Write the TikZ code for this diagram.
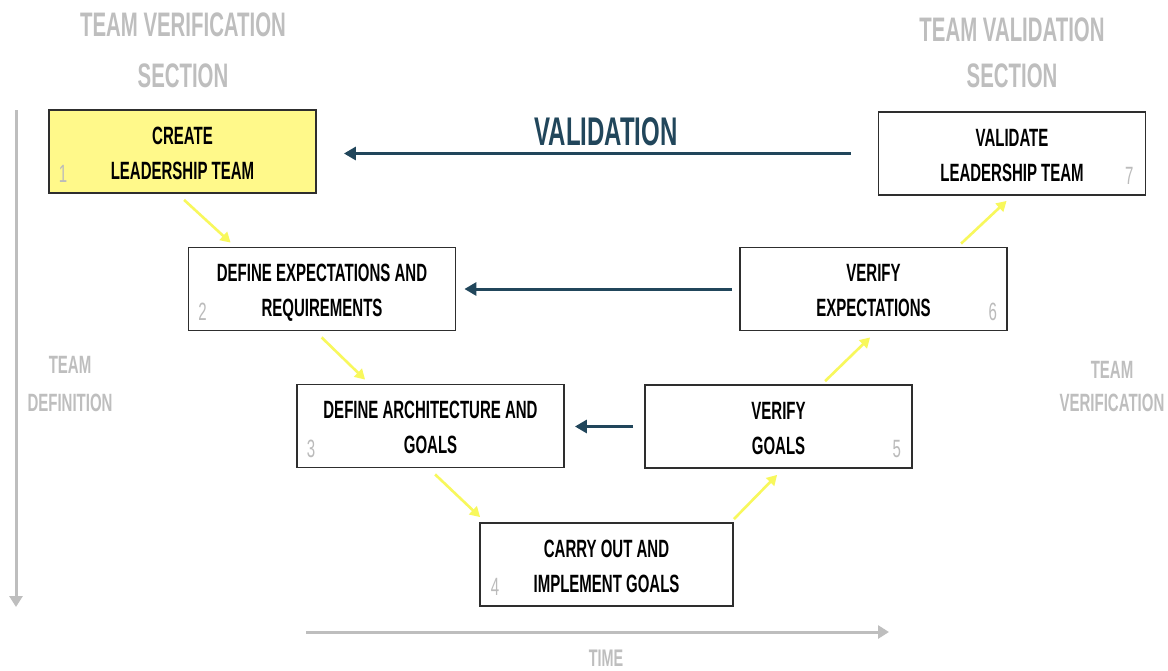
\documentclass[tikz,border=0pt]{standalone}
\usepackage{fontspec}
\setmainfont{Liberation Sans}[FakeStretch=0.6]
\usetikzlibrary{arrows.meta}
\definecolor{navy}{HTML}{21465B}
\definecolor{yel}{HTML}{F8F85C}
\definecolor{boxyel}{HTML}{FFF98A}
\definecolor{lgray}{HTML}{BEBEBE}
\definecolor{numgray}{HTML}{BBBBBB}
\definecolor{edge}{HTML}{2E2E2E}
\begin{document}
\begin{tikzpicture}[x=1pt,y=-1pt,
  stepbox/.style={draw=edge, line width=1.8pt, minimum width=267pt, minimum height=83pt,
    inner sep=0pt, align=center, text height=55pt, text depth=0pt,
    font=\fontsize{25}{35}\selectfont\bfseries},
  numlbl/.style={text=numgray, anchor=base, inner sep=0pt, font=\fontsize{25}{25}\selectfont},
  graytxt/.style={text=lgray, align=center, inner sep=0pt},
  yarrow/.style={draw=yel, line width=2.6pt, -{Triangle[length=10pt,width=11pt]}},
  darrow/.style={draw=navy, line width=3pt, -{Triangle[length=12pt,width=13pt]}},
  garrow/.style={draw=lgray, line width=3pt, -{Triangle[length=11pt,width=13pt]}}
]
\useasboundingbox (0,0) rectangle (1168,670);
\fill[white] (0,0) rectangle (1168,670);

% headings
\node[graytxt, font=\fontsize{34}{51}\selectfont\bfseries] (hl) at (183,50.5) {TEAM VERIFICATION\\SECTION};
\node[graytxt, font=\fontsize{34}{46}\selectfont\bfseries] (hr) at (1012,53) {TEAM VALIDATION\\SECTION};
\node[graytxt, font=\fontsize{25}{38}\selectfont\bfseries] (sl) at (70,384) {TEAM\\DEFINITION};
\node[graytxt, font=\fontsize{25}{33}\selectfont\bfseries] (sr) at (1112,386.5) {TEAM\\VERIFICATION};
\node[graytxt, font=\fontsize{24}{24}\selectfont\bfseries] (time) at (606,658) {TIME};
\node[text=navy, inner sep=0pt, font=\fontsize{40}{40}\selectfont\bfseries] (val) at (606,132) {VALIDATION};

% boxes
\node[stepbox, fill=boxyel] (b1) at (182.5,151.5) {CREATE\\LEADERSHIP TEAM};
\node[stepbox, fill=white] (b2) at (322,289) {DEFINE EXPECTATIONS AND\\REQUIREMENTS};
\node[stepbox, fill=white] (b3) at (430.5,426) {DEFINE ARCHITECTURE AND\\GOALS};
\node[stepbox, fill=white, minimum width=253pt] (b4) at (606.5,564.5) {CARRY OUT AND\\IMPLEMENT GOALS};
\node[stepbox, fill=white] (b5) at (778.5,426.5) {VERIFY\\GOALS};
\node[stepbox, fill=white] (b6) at (873.5,289) {VERIFY\\EXPECTATIONS};
\node[stepbox, fill=white] (b7) at (1012,153.5) {VALIDATE\\LEADERSHIP TEAM};

% numbers
\node[numlbl] (n1) at ([shift={(15,-11)}]b1.south west) {1};
\node[numlbl] (n2) at ([shift={(15,-11)}]b2.south west) {2};
\node[numlbl] (n3) at ([shift={(15,-11)}]b3.south west) {3};
\node[numlbl] (n4) at ([shift={(16,-11)}]b4.south west) {4};
\node[numlbl] (n5) at ([shift={(-16,-11)}]b5.south east) {5};
\node[numlbl] (n6) at ([shift={(-15,-11)}]b6.south east) {6};
\node[numlbl] (n7) at ([shift={(-17,-11)}]b7.south east) {7};

% yellow flow arrows
\draw[yarrow] ([shift={(136,6)}]b1.south west) -- ([shift={(43,-4)}]b2.north west);
\draw[yarrow] ([shift={(134,6)}]b2.south west) -- ([shift={(69,-4)}]b3.north west);
\draw[yarrow] ([shift={(139,6)}]b3.south west) -- ([shift={(1,-5)}]b4.north west);
\draw[yarrow] ([shift={(0,-3)}]b4.north east) -- ([shift={(133,6)}]b5.south west);
\draw[yarrow] ([shift={(181,-3)}]b5.north west) -- ([shift={(131,6)}]b6.south west);
\draw[yarrow] ([shift={(222,-3)}]b6.north west) -- ([shift={(129,5)}]b7.south west);

% navy feedback arrows
\draw[darrow, shorten <=27pt, shorten >=27pt] (b7.west) -- (b7.west -| b1.east);
\draw[darrow, shorten <=7pt, shorten >=8pt] (b6.west) -- (b6.west -| b2.east);
\draw[darrow, shorten <=11pt, shorten >=10pt] (b5.west) -- (b5.west -| b3.east);

% axes
\coordinate (vtop) at (16,110);
\coordinate (vbot) at (16,607);
\coordinate (hleft) at (306,632);
\coordinate (hright) at (889,632);
\draw[garrow] (vtop) -- (vbot);
\draw[garrow] (hleft) -- (hright);
\end{tikzpicture}
\end{document}
